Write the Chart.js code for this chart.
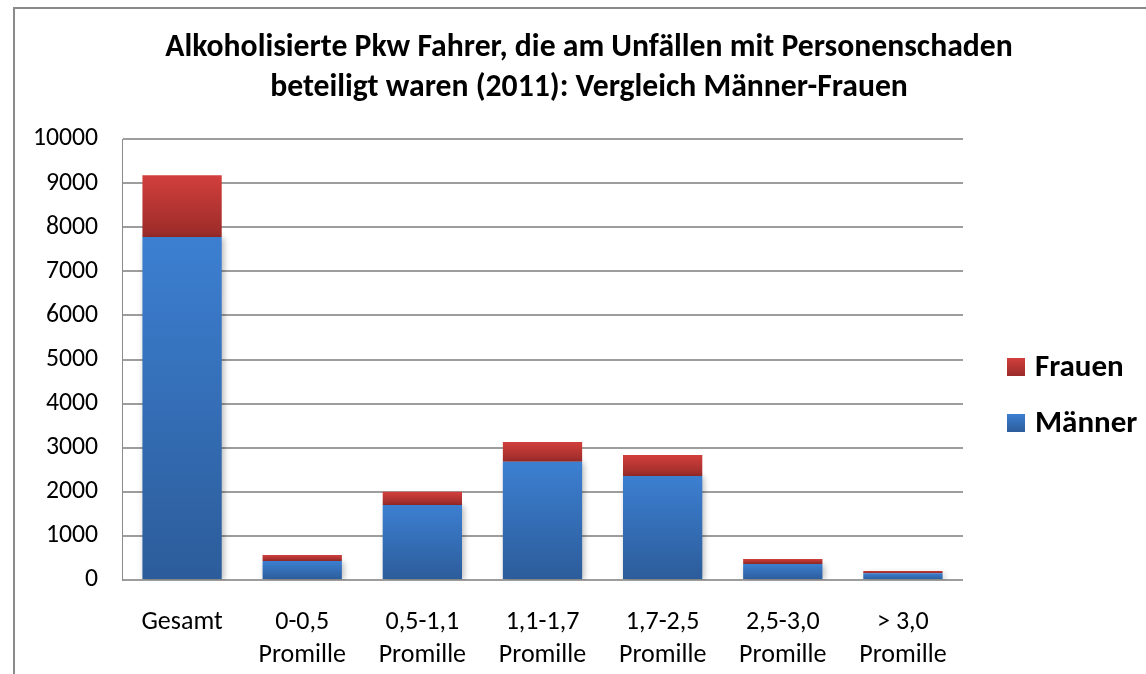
<!DOCTYPE html>
<html>
<head>
<meta charset="utf-8">
<script src="https://cdn.jsdelivr.net/npm/chart.js@4/dist/chart.umd.min.js"></script>
<style>
  html, body { margin: 0; padding: 0; background: #fff; overflow: hidden; }
  #frame { position: absolute; left: 13px; top: 7px; width: 1200px; height: 720px; border: 2px solid #8a8a8a; }
  canvas { display: block; }
</style>
</head>
<body>
<div id="frame"><canvas id="myChart" width="1148" height="672"></canvas></div>
<script>
//  Chart data
const title_lines = ['Alkoholisierte Pkw Fahrer, die am Unfällen mit Personenschaden',
                     'beteiligt waren (2011): Vergleich Männer-Frauen'];
const categories = [['Gesamt'], ['0-0,5', 'Promille'], ['0,5-1,1', 'Promille'], ['1,1-1,7', 'Promille'],
                    ['1,7-2,5', 'Promille'], ['2,5-3,0', 'Promille'], ['> 3,0', 'Promille']];
const series_names = ['Männer', 'Frauen'];
const maenner = [7780, 430, 1700, 2680, 2360, 365, 155];
const frauen = [1400, 135, 300, 450, 475, 110, 50];
const y_ticks = [0, 1000, 2000, 3000, 4000, 5000, 6000, 7000, 8000, 9000, 10000];

const font_family = 'Carlito, Calibri, Lato, sans-serif';
const blue = ['#3c7fd1', '#2c5c9a'];
const red = ['#d23f3c', '#9a2b29'];

//  Gradient from the top of a bar segment down to its bottom
function bar_gradient(colors, lower, upper) {
    return function(context) {
        const chart = context.chart;
        const y = chart.scales.y;
        if (!chart.chartArea || !y || context.type !== 'data') return colors[0];
        const i = context.dataIndex;
        const y_top = y.getPixelForValue(upper(i));
        const y_bot = y.getPixelForValue(lower(i));
        if (!isFinite(y_top) || !isFinite(y_bot) || y_bot - y_top < 1) return colors[0];
        const g = chart.ctx.createLinearGradient(0, y_top, 0, y_bot);
        g.addColorStop(0, colors[0]);
        g.addColorStop(1, colors[1]);
        return g;
    };
}

//  Soft shadow behind the Männer bars
const shadow_plugin = {
    id: 'bar_shadow',
    beforeDatasetDraw(chart, args) {
        if (args.index !== 0) return;
        const ctx = chart.ctx;
        ctx.save();
        ctx.shadowColor = 'rgba(0,0,0,0.28)';
        ctx.shadowBlur = 6;
        ctx.shadowOffsetX = 2;
        ctx.shadowOffsetY = 1;
    },
    afterDatasetDraw(chart, args) {
        if (args.index !== 0) return;
        chart.ctx.restore();
    }
};

//  Legend on the right, Frauen above Männer
const legend_plugin = {
    id: 'side_legend',
    afterDraw(chart) {
        const ctx = chart.ctx;
        const rows = [[series_names[1], red], [series_names[0], blue]];
        ctx.save();
        ctx.font = 'bold 31px ' + font_family;
        ctx.textBaseline = 'middle';
        rows.forEach((row, k) => {
            const top = 349 + k * 56;
            const g = ctx.createLinearGradient(0, top, 0, top + 18);
            g.addColorStop(0, row[1][0]);
            g.addColorStop(1, row[1][1]);
            ctx.fillStyle = g;
            ctx.fillRect(992, top, 18, 18);
            ctx.fillStyle = '#000';
            ctx.fillText(row[0], 1020, top + 10);
        });
        ctx.restore();
    }
};

const ctx = document.getElementById('myChart');
new Chart(ctx, {
    type: 'bar',
    data: {
        labels: categories,
        datasets: [{
            label: series_names[0],
            data: maenner,
            backgroundColor: bar_gradient(blue, i => 0, i => maenner[i]),
            borderWidth: 0,
            barPercentage: 0.66,
            categoryPercentage: 1
        }, {
            label: series_names[1],
            data: frauen,
            backgroundColor: bar_gradient(red, i => maenner[i], i => maenner[i] + frauen[i]),
            borderWidth: 0,
            barPercentage: 0.66,
            categoryPercentage: 1
        }]
    },
    options: {
        responsive: false,
        animation: false,
        layout: { padding: 0 },
        plugins: {
            legend: { display: false },
            tooltip: { enabled: false },
            title: {
                display: true,
                text: title_lines,
                color: '#000',
                font: { family: font_family, size: 31.7, weight: 'bold', lineHeight: 40 / 31.7 },
                padding: { top: 19, bottom: 31 }
            }
        },
        scales: {
            x: {
                stacked: true,
                grid: { display: false },
                border: { display: false },
                ticks: {
                    color: '#000',
                    padding: 18,
                    maxRotation: 0,
                    autoSkip: false,
                    font: { family: font_family, size: 26, lineHeight: 33 / 26 }
                },
                afterFit(scale) { scale.height = 101; }
            },
            y: {
                stacked: true,
                min: 0,
                max: 10000,
                afterBuildTicks(scale) { scale.ticks = y_ticks.map(v => ({ value: v })); },
                ticks: {
                    color: '#000',
                    padding: 24,
                    font: { family: font_family, size: 25.7 },
                    callback: v => String(v)
                },
                grid: { color: '#9d9d9d', lineWidth: 2, drawTicks: false },
                border: { display: true, color: '#8c8c8c', width: 1 },
                afterFit(scale) { scale.width = 107; }
            },
            //  empty right axis that keeps room for the legend
            legend_space: {
                type: 'linear',
                position: 'right',
                grid: { display: false },
                border: { display: false },
                ticks: { display: false },
                afterFit(scale) { scale.width = 200; }
            }
        }
    },
    plugins: [shadow_plugin, legend_plugin]
});
</script>
</body>
</html>
